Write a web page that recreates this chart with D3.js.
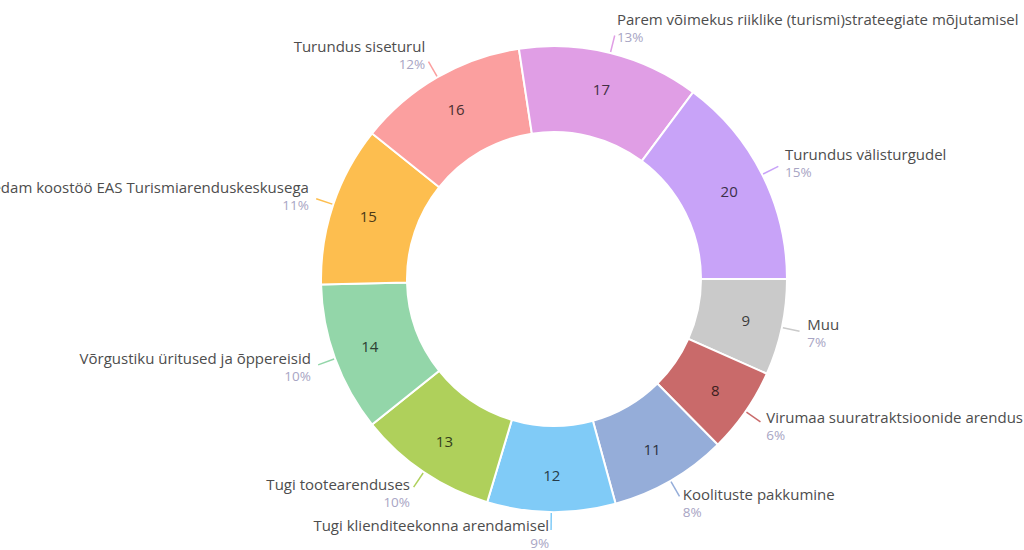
<!DOCTYPE html>
<html>
<head>
<meta charset="utf-8">
<script src="https://cdn.jsdelivr.net/npm/d3@7"></script>
<style>
  html, body { margin: 0; padding: 0; background: #fff; }
  svg { display: block; }
</style>
</head>
<body>
<svg id="chart" width="1024" height="550"></svg>
<script>
const categories = [
  "Muu",
  "Virumaa suuratraktsioonide arendus",
  "Koolituste pakkumine",
  "Tugi klienditeekonna arendamisel",
  "Tugi tootearenduses",
  "Võrgustiku üritused ja õppereisid",
  "Tihedam koostöö EAS Turismiarenduskeskusega",
  "Turundus siseturul",
  "Parem võimekus riiklike (turismi)strateegiate mõjutamisel",
  "Turundus välisturgudel"
];
const values = [9, 8, 11, 12, 13, 14, 15, 16, 17, 20];
const percentLabels = ["7%", "6%", "8%", "9%", "10%", "10%", "11%", "12%", "13%", "15%"];
const colors = ["#cacaca", "#c96a6a", "#95add9", "#80cbf7", "#afd05b", "#93d6a9", "#fdbe4f", "#fb9f9f", "#e09ee5", "#c8a3f8"];

const data = categories.map((c, i) => ({ name: c, value: values[i], pct: percentLabels[i], color: colors[i] }));

const svg = d3.select("#chart");
const cx = 554, cy = 279;
const outerR = 233, innerR = 147;

const g = svg.append("g").attr("transform", `translate(${cx},${cy})`);

const pie = d3.pie().value(d => d.value).sort(null)
  .startAngle(Math.PI / 2).endAngle(Math.PI / 2 + 2 * Math.PI);
const arcs = pie(data);

const arc = d3.arc().innerRadius(innerR).outerRadius(outerR);
const labelArc = d3.arc().innerRadius(196).outerRadius(196);

g.selectAll("path.slice").data(arcs).join("path")
  .attr("class", "slice")
  .attr("d", arc)
  .attr("fill", d => d.data.color)
  .attr("stroke", "#fff")
  .attr("stroke-width", 2);

g.selectAll("text.val").data(arcs).join("text")
  .attr("class", "val")
  .attr("transform", d => `translate(${labelArc.centroid(d)})`)
  .attr("text-anchor", "middle")
  .attr("dominant-baseline", "central")
  .attr("font-family", "Open Sans, sans-serif")
  .attr("font-size", 15)
  .attr("fill", d => d3.color(d.data.color).darker(3.4))
  .text(d => d.data.value);

const midA = d => (d.startAngle + d.endAngle) / 2;
const pt = (a, r) => [Math.sin(a) * r, -Math.cos(a) * r];

g.selectAll("line.leader").data(arcs).join("line")
  .attr("class", "leader")
  .attr("x1", d => pt(midA(d), outerR + 1)[0])
  .attr("y1", d => pt(midA(d), outerR + 1)[1])
  .attr("x2", d => pt(midA(d), 251)[0])
  .attr("y2", d => pt(midA(d), 251)[1])
  .attr("stroke", d => d.data.color)
  .attr("stroke-width", 1.5);

const lab = g.selectAll("g.lab").data(arcs).join("g").attr("class", "lab")
  .attr("transform", d => {
    const a = midA(d);
    const [px, py] = pt(a, 250);
    const s = Math.sin(a);
    const off = 2 + 7 * s * s;
    const x = s >= 0 ? px + off : px - off;
    const yc = Math.min(py - Math.cos(a) * 8.5, 255);
    return `translate(${x},${yc})`;
  });

lab.append("text")
  .attr("y", -9)
  .attr("dominant-baseline", "central")
  .attr("text-anchor", d => Math.sin(midA(d)) >= 0 ? "start" : "end")
  .attr("font-family", "Open Sans, sans-serif")
  .attr("font-size", 15)
  .attr("fill", "#4d4d4d")
  .text(d => d.data.name);

lab.append("text")
  .attr("y", 9)
  .attr("dominant-baseline", "central")
  .attr("text-anchor", d => Math.sin(midA(d)) >= 0 ? "start" : "end")
  .attr("font-family", "Open Sans, sans-serif")
  .attr("font-size", 13.5)
  .attr("fill", "#a8a5c4")
  .text(d => d.data.pct);
</script>
</body>
</html>
